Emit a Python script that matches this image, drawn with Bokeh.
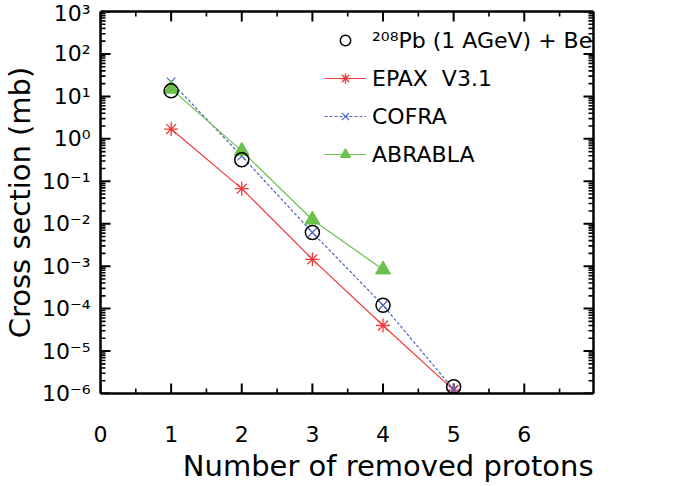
from bokeh.plotting import figure
from bokeh.models import (FixedTicker, LinearAxis, LogAxis, Legend, LegendItem,
                          LogTicker, Range1d, CustomJSTickFormatter, Title)
from bokeh.embed import file_html
from bokeh.resources import INLINE

# ---- data ----
protons = [1, 2, 3, 4, 5]
data_pb = [13.5, 0.32, 6.2e-3, 1.2e-4, 1.45e-6]
epax = [1.7, 0.067, 1.45e-3, 4.0e-5, 1.2e-6]
cofra = [22, 0.39, 6.2e-3, 1.2e-4, 1.25e-6]
abrabla_x = [1, 2, 3, 4]
abrabla = [15, 0.52, 0.0124, 8.3e-4]
x_ticks = [0, 1, 2, 3, 4, 5, 6]
x_minor = [0.5, 1.5, 2.5, 3.5, 4.5, 5.5, 6.5]
y_decades = [-6, -5, -4, -3, -2, -1, 0, 1, 2, 3]
X_MIN, X_MAX = 0, 6.98
Y_MIN, Y_MAX = 1e-6, 1e3

SUP = str.maketrans("-0123456789", "⁻⁰¹²³⁴⁵⁶⁷⁸⁹")
y_labels = {10.0 ** e: "10" + str(e).translate(SUP) for e in y_decades}
y_major = [10.0 ** e for e in y_decades]
y_minor = [k * 10.0 ** e for e in y_decades[:-1] for k in range(2, 10)]

FONT = "DejaVu Sans"
RED = "#ee3a3a"
BLUE = "#4a63c8"
GREEN = "#6cbf4a"
FW, FH = 493, 382

p = figure(frame_width=FW, frame_height=FH, y_axis_type="log",
           x_range=Range1d(X_MIN, X_MAX), y_range=Range1d(Y_MIN, Y_MAX),
           output_backend="svg", toolbar_location=None,
           min_border_left=85, min_border_right=0,
           min_border_top=11, min_border_bottom=0)
p.grid.visible = False
p.outline_line_color = None

# inward tick marks on all four sides (pixel lengths -> data units)
dec_per_px = 9.0 / FH
x_per_px = (X_MAX - X_MIN) / FW
for ticks, L, w in ((x_ticks, 10, 2.0), (x_minor, 5, 1.6)):
    f = 10 ** (L * dec_per_px)
    xs = [[t, t] for t in ticks] * 2
    ys = [[Y_MIN, Y_MIN * f] for t in ticks] + [[Y_MAX, Y_MAX / f] for t in ticks]
    p.multi_line(xs=xs, ys=ys, line_color="black", line_width=w)
for ticks, L, w in ((y_major, 10, 2.0), (y_minor, 5, 1.6)):
    d = L * x_per_px
    xs = [[X_MIN, X_MIN + d] for t in ticks] + [[X_MAX, X_MAX - d] for t in ticks]
    ys = [[t, t] for t in ticks] * 2
    p.multi_line(xs=xs, ys=ys, line_color="black", line_width=w)

# lines and markers
r_epax_l = p.line(protons, epax, line_color=RED, line_width=1.2)
r_epax_m = p.scatter(protons, epax, marker="asterisk", size=14,
                     line_color=RED, line_width=1.3)
r_cofra_l = p.line(protons, cofra, line_color=BLUE, line_width=1.2,
                   line_dash="3 2")
r_cofra_m = p.scatter(protons, cofra, marker="x", size=12,
                      line_color=BLUE, line_width=1.2)
r_abr_l = p.line(abrabla_x, abrabla, line_color=GREEN, line_width=1.2)
r_abr_m = p.scatter(abrabla_x, abrabla, marker="triangle", size=15,
                    fill_color=GREEN, line_color=GREEN)
r_data = p.scatter(protons, data_pb, marker="circle", size=14,
                   fill_color=None, line_color="black", line_width=1.5)

blank = CustomJSTickFormatter(code="return ' '")

def style_axis(ax):
    ax.axis_line_width = 2.5
    ax.axis_line_color = "black"
    ax.major_tick_in = 0
    ax.major_tick_out = 0
    ax.minor_tick_in = 0
    ax.minor_tick_out = 0
    ax.major_label_text_font = FONT
    ax.major_label_text_font_size = "22px"
    ax.major_label_text_color = "black"
    ax.axis_label_text_font = FONT
    ax.axis_label_text_font_size = "29px"
    ax.axis_label_text_font_style = "normal"
    ax.axis_label_text_color = "black"

p.xaxis.ticker = FixedTicker(ticks=x_ticks, minor_ticks=x_minor)
p.xaxis.major_label_standoff = 32
style_axis(p.xaxis[0])

xtitle = Title(text="Number of removed protons", align="right",
               text_font=FONT, text_font_size="29px",
               text_font_style="normal", text_color="black", standoff=4)
p.add_layout(xtitle, "below")

p.yaxis.ticker = LogTicker(num_minor_ticks=10, desired_num_ticks=10)
p.yaxis.major_label_overrides = y_labels
p.yaxis.axis_label = "Cross section (mb)"
p.yaxis.major_label_standoff = 10
p.yaxis.axis_label_standoff = 2
style_axis(p.yaxis[0])

top = LinearAxis(ticker=FixedTicker(ticks=x_ticks, minor_ticks=x_minor),
                 formatter=blank, major_label_standoff=0)
style_axis(top)
top.major_label_text_font_size = "1px"
p.add_layout(top, "above")
right = LogAxis(ticker=LogTicker(num_minor_ticks=10, desired_num_ticks=10),
                formatter=blank, major_label_standoff=0)
style_axis(right)
right.major_label_text_font_size = "1px"
p.add_layout(right, "right")

legend = Legend(items=[
    LegendItem(label="²⁰⁸Pb (1 AGeV) + Be", renderers=[r_data]),
    LegendItem(label="EPAX  V3.1", renderers=[r_epax_l, r_epax_m]),
    LegendItem(label="COFRA", renderers=[r_cofra_l, r_cofra_m]),
    LegendItem(label="ABRABLA", renderers=[r_abr_l, r_abr_m]),
], location=(224, 226), border_line_color=None, background_fill_alpha=0,
    padding=0, margin=0, spacing=12,
    glyph_width=42, glyph_height=26, label_height=26, label_standoff=6,
    label_text_font=FONT, label_text_font_size="22px",
    label_text_color="black")
p.add_layout(legend, "center")

open("out.html", "w").write(file_html(p, INLINE))
